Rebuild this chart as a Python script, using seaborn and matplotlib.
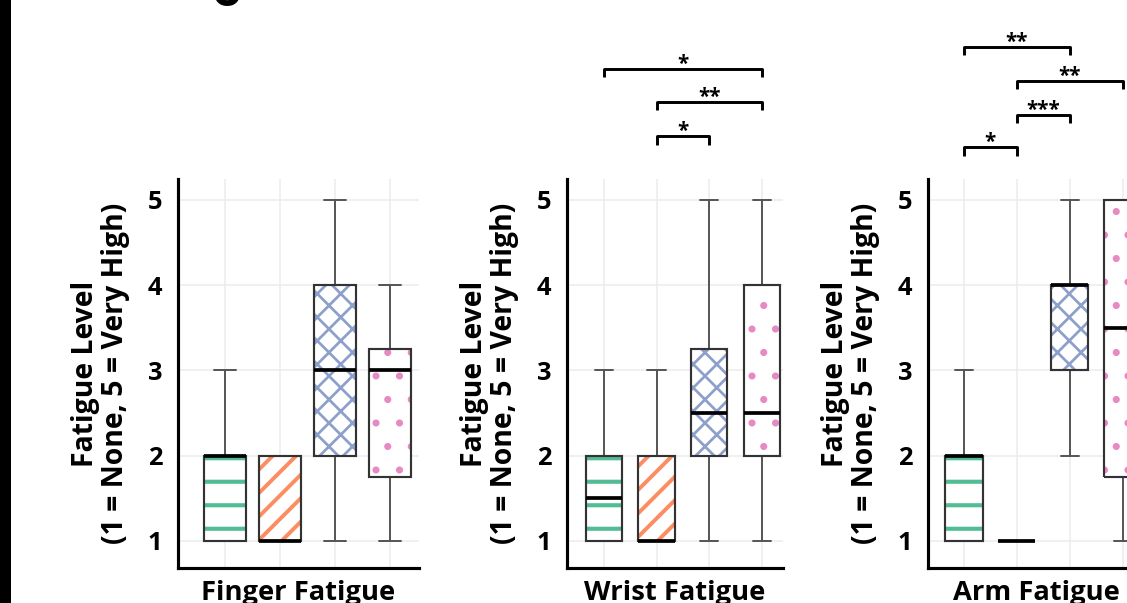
import numpy as np
import pandas as pd
import matplotlib
matplotlib.use("Agg")
import matplotlib.pyplot as plt
from matplotlib.patches import PathPatch, Rectangle
import seaborn as sns

# ---------------- data ----------------
conditions = ["C1", "C2", "C3", "C4"]
hatch_colors = ["#52bd94", "#fc8d62", "#8da0cb", "#e78ac3"]
hatches = ["-", "//", "xx", "."]
hatch_widths = [2.1, 2.0, 1.4, 1.2]

finger_c1 = [1, 1, 1, 1, 1, 2, 2, 2, 2, 2, 2, 3]
finger_c2 = [1, 1, 1, 1, 1, 1, 1, 2, 2, 2, 2, 2]
finger_c3 = [1, 2, 2, 2, 3, 3, 3, 3, 4, 4, 4, 5]
finger_c4 = [1, 1, 1, 2, 2, 3, 3, 3, 3, 4, 4, 4]

wrist_c1 = [1, 1, 1, 1, 1, 1, 2, 2, 2, 2, 2, 3]
wrist_c2 = [1, 1, 1, 1, 1, 1, 1, 2, 2, 2, 2, 3]
wrist_c3 = [1, 1, 2, 2, 2, 2, 3, 3, 3, 4, 4, 5]
wrist_c4 = [1, 2, 2, 2, 2, 2, 3, 3, 4, 4, 5, 5]

arm_c1 = [1, 1, 1, 1, 1, 2, 2, 2, 2, 2, 2, 3]
arm_c2 = [1, 1, 1, 1, 1, 1, 1, 1, 1, 1, 1, 1]
arm_c3 = [2, 3, 3, 3, 3, 4, 4, 4, 4, 4, 4, 5]
arm_c4 = [1, 1, 1, 2, 3, 3, 4, 5, 5, 5, 5, 5]

panel_titles = ["Finger Fatigue", "Wrist Fatigue", "Arm Fatigue"]
y_ticks = [1, 2, 3, 4, 5]
y_label = "Fatigue Level\n(1 = None, 5 = Very High)"

wrist_sig_pairs = [(1, 2), (1, 3), (0, 3)]
wrist_sig_labels = ["*", "**", "*"]
wrist_sig_levels = [5.75, 6.15, 6.54]
arm_sig_pairs = [(0, 1), (1, 2), (1, 3), (0, 2)]
arm_sig_labels = ["*", "***", "**", "**"]
arm_sig_levels = [5.62, 6.0, 6.40, 6.80]

# ---------------- style ----------------
sns.set_style("white")
plt.rcParams["font.family"] = ["Open Sans", "DejaVu Sans"]
plt.rcParams["font.weight"] = "bold"
plt.rcParams["axes.labelweight"] = "bold"
plt.rcParams["text.color"] = "black"
plt.rcParams["axes.labelcolor"] = "black"
plt.rcParams["xtick.color"] = "black"
plt.rcParams["ytick.color"] = "black"
plt.rcParams["hatch.linewidth"] = 1.8

W, H, DPI = 1127, 603, 141
fig = plt.figure(figsize=(W / DPI, H / DPI), dpi=DPI)

def px_axes(left, right, top, bottom):
    return [left / W, (H - bottom) / H, (right - left) / W, (bottom - top) / H]

panels = [
    dict(data=[finger_c1, finger_c2, finger_c3, finger_c4], box=(178, 419, 179, 568),
         xlim=(-0.855, 3.527), width=0.78, sig=([], [], [])),
    dict(data=[wrist_c1, wrist_c2, wrist_c3, wrist_c4], box=(567, 783, 179, 568),
         xlim=(-0.70, 3.40), width=0.69, sig=(wrist_sig_pairs, wrist_sig_labels, wrist_sig_levels)),
    dict(data=[arm_c1, arm_c2, arm_c3, arm_c4], box=(928, 1144, 179, 568),
         xlim=(-0.68, 3.40), width=0.70, sig=(arm_sig_pairs, arm_sig_labels, arm_sig_levels)),
]

for title, pn in zip(panel_titles, panels):
    l, r, t, b = pn["box"]
    ax = fig.add_axes(px_axes(l, r, t, b))
    lists = pn["data"]
    df = pd.DataFrame({
        "condition": np.repeat(conditions, [len(d) for d in lists]),
        "fatigue": np.concatenate(lists),
    })
    sns.boxplot(data=df, x="condition", y="fatigue", order=conditions, color="white",
                saturation=1, width=pn["width"], linewidth=1.0, linecolor="#333333",
                fliersize=0, ax=ax,
                medianprops=dict(color="black", linewidth=1.9),
                whiskerprops=dict(color="#555555", linewidth=1.0),
                capprops=dict(color="#555555", linewidth=1.0))
    boxes = list(ax.patches)
    for i, p in enumerate(boxes):
        p.set_facecolor("white")
        p.set_edgecolor(hatch_colors[i])
        p.set_linewidth(0)
        p.set_hatch(hatches[i])
        if hasattr(p, "set_hatch_linewidth"):
            p.set_hatch_linewidth(hatch_widths[i])
        outline = PathPatch(p.get_path(), transform=p.get_transform(), fill=False,
                            edgecolor="#333333", linewidth=1.1, zorder=p.get_zorder() + 0.05)
        ax.add_patch(outline)

    ax.set_xlim(*pn["xlim"])
    ax.set_ylim(0.683, 5.246)
    ax.set_yticks(y_ticks)
    ax.set_xticks(range(len(conditions)))
    ax.set_xticklabels([])
    ax.grid(True, color="#ececec", linewidth=0.8)
    ax.set_axisbelow(True)
    for s in ["top", "right"]:
        ax.spines[s].set_visible(False)
    for s in ["left", "bottom"]:
        ax.spines[s].set_linewidth(1.6)
        ax.spines[s].set_color("black")
    ax.tick_params(axis="both", length=0, labelsize=13, pad=8)
    for lbl in ax.get_yticklabels():
        lbl.set_fontweight("bold")
    ax.set_xlabel(title, fontsize=14, fontweight="bold")
    ax.xaxis.set_label_coords(0.5, -12.5 / (b - t))
    ax.set_ylabel(y_label, fontsize=14.5, fontweight="bold", linespacing=1.05)
    ax.yaxis.set_label_coords(-48.0 / (r - l), 0.5)

    pairs, labels, levels = pn["sig"]
    for (a, c), lab, lev in zip(pairs, labels, levels):
        ax.plot([a, a, c, c], [lev - 0.1, lev, lev, lev - 0.1], color="black",
                linewidth=1.5, clip_on=False, solid_capstyle="butt")
        ax.annotate(lab, xy=((a + c) / 2, lev), xytext=(0, -0.5), textcoords="offset points",
                    ha="center", va="baseline", fontsize=10.5, fontweight="bold",
                    annotation_clip=False)

# decorations of the cropped source figure
fig.add_artist(Rectangle((0, 0), 11 / W, 1, transform=fig.transFigure,
                         facecolor="black", edgecolor="none"))
fig.text(226.5 / W, 1 - 6.5 / H, "o", fontsize=25, fontweight="bold", color="black",
         ha="center", va="baseline")

fig.savefig("out.png", dpi=DPI)
